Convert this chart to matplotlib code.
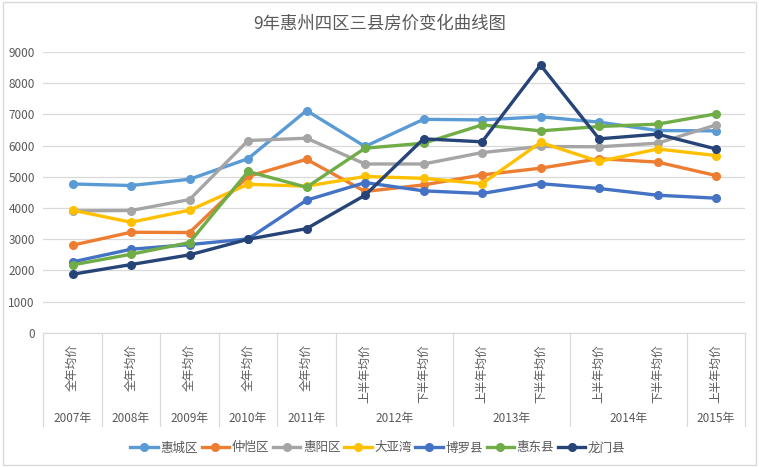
import matplotlib
matplotlib.use("Agg")
import matplotlib.pyplot as plt
from matplotlib.lines import Line2D
from matplotlib.patches import Rectangle
import matplotlib.transforms as mtrans

plt.rcParams['font.family'] = ['Noto Sans CJK SC', 'DejaVu Sans']

title = "9年惠州四区三县房价变化曲线图"
categories = ["全年均价"] * 5 + ["上半年均价", "下半年均价"] * 3 + ["上半年均价"]
years = ["2007年", "2008年", "2009年", "2010年", "2011年", "2012年", "2013年", "2014年", "2015年"]
year_counts = [1, 1, 1, 1, 1, 2, 2, 2, 1]

series_names = ["惠城区", "仲恺区", "惠阳区", "大亚湾", "博罗县", "惠东县", "龙门县"]
huicheng = [4770, 4720, 4920, 5580, 7120, 5970, 6840, 6820, 6920, 6750, 6480, 6470]
zhongkai = [2810, 3225, 3215, 5010, 5560, 4530, 4740, 5060, 5275, 5580, 5470, 5040]
huiyang = [3910, 3920, 4270, 6160, 6235, 5410, 5410, 5775, 5970, 5960, 6075, 6660]
dayawan = [3930, 3545, 3930, 4760, 4700, 5010, 4950, 4780, 6100, 5490, 5890, 5680]
boluo = [2275, 2680, 2830, 3010, 4250, 4815, 4550, 4465, 4780, 4625, 4410, 4315]
huidong = [2180, 2520, 2895, 5170, 4665, 5915, 6075, 6660, 6470, 6610, 6685, 7015]
longmen = [1880, 2190, 2500, 3000, 3340, 4410, 6215, 6120, 8575, 6215, 6365, 5890]
series_values = [huicheng, zhongkai, huiyang, dayawan, boluo, huidong, longmen]
colors = ["#5B9BD5", "#ED7D31", "#A5A5A5", "#FFC000", "#4472C4", "#70AD47", "#264478"]

yticks = list(range(0, 9001, 1000))

fig = plt.figure(figsize=(7.59, 4.67), dpi=100)
ax = fig.add_axes([0.057, 0.287, 0.925, 0.602])

x = list(range(len(categories)))
for name, vals, c in zip(series_names, series_values, colors):
    ax.plot(x, vals, color=c, lw=2.4, marker='o', ms=5.5, label=name,
            solid_capstyle='round', solid_joinstyle='round')

ax.set_xlim(-0.5, len(categories) - 0.5)
ax.set_ylim(0, 9000)
ax.set_yticks(yticks)
ax.set_yticklabels([str(v) for v in yticks], fontsize=8.5, color='#595959')
ax.yaxis.grid(True, color='#D9D9D9', lw=0.9)
ax.set_axisbelow(True)
ax.tick_params(axis='y', length=0, pad=6)
for s in ['top', 'right', 'left']:
    ax.spines[s].set_visible(False)
ax.spines['bottom'].set_color('#D9D9D9')

ax.set_xticks(x)
ax.set_xticklabels(categories, rotation=90, fontsize=8.5, color='#595959', va='top')
ax.tick_params(axis='x', length=0, pad=8)

# multi-level year labels and separators
trans = mtrans.blended_transform_factory(ax.transData, ax.transAxes)
pos = -0.5
ax.plot([pos, pos], [0, -0.33], transform=trans, color='#D9D9D9', lw=0.9, clip_on=False)
for yr, n in zip(years, year_counts):
    center = pos + n / 2
    ax.text(center, -0.305, yr, transform=trans, ha='center', va='center',
            fontsize=8.5, color='#595959')
    pos += n
    ax.plot([pos, pos], [0, -0.33], transform=trans, color='#D9D9D9', lw=0.9, clip_on=False)

fig.text(0.5, 0.95, title, ha='center', va='center', fontsize=12.5, color='#595959')

handles = [Line2D([0], [0], color=c, lw=2.4, marker='o', ms=5.5) for c in colors]
fig.legend(handles, series_names, loc='center', bbox_to_anchor=(0.498, 0.041), ncol=7,
           frameon=False, fontsize=9, handlelength=2.2, handletextpad=0.2,
           columnspacing=0.3, labelcolor='#595959')

fig.patches.append(Rectangle((0.004, 0.004), 0.992, 0.992, transform=fig.transFigure,
                             fill=False, edgecolor='#D9D9D9', lw=1))

fig.savefig("out.png", dpi=100)
